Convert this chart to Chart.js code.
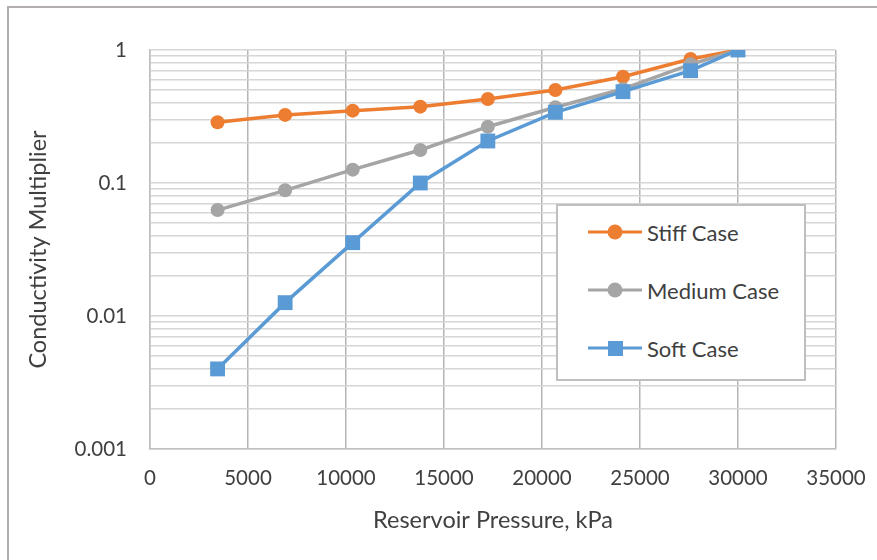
<!DOCTYPE html>
<html>
<head>
<meta charset="utf-8">
<script src="https://cdn.jsdelivr.net/npm/chart.js@4"></script>
<style>
    body { margin: 0; background: #fff; }
    #wrap { position: relative; width: 877px; height: 560px; overflow: hidden; }
    #frame { position: absolute; left: 7px; top: 6px; width: 900px; height: 600px;
             border-left: 2px solid #b3aeb0; border-top: 2px solid #b3aeb0; }
    #legend { position: absolute; left: 556px; top: 204px; width: 246px; height: 173px;
              background: #fff; border: 2px solid #bfbfbf; font-family: Lato, sans-serif;
              font-size: 22px; color: #404040; }
    .row { position: absolute; left: 30px; height: 24px; display: flex; align-items: center; }
    .row svg { margin-right: 5px; }
</style>
</head>
<body>
<div id="wrap">
    <div id="frame"></div>
    <canvas id="chart" width="877" height="560"></canvas>
    <div id="legend"></div>
</div>
<script>
// pressure in kPa
const pressure = [3447, 6895, 10342, 13790, 17237, 20684, 24132, 27579, 30000];
const stiffCase = [0.286, 0.325, 0.350, 0.375, 0.428, 0.500, 0.630, 0.856, 1];
const mediumCase = [0.0626, 0.0881, 0.126, 0.177, 0.265, 0.371, 0.509, 0.78, 1];
const softCase = [0.0040, 0.0126, 0.0356, 0.100, 0.207, 0.340, 0.486, 0.699, 1];

const yLabelValues = [0.001, 0.01, 0.1, 1];
const yTickLabels = ['0.001', '0.01', '0.1', '1'];
const xTickLabels = ['0', '5000', '10000', '15000', '20000', '25000', '30000', '35000'];

// gridlines at 1..9 of each decade
const yGridValues = [];
[0.001, 0.01, 0.1].forEach(d => {
    for (let k = 1; k < 10; k++) yGridValues.push(+(d * k).toPrecision(3));
});
yGridValues.push(1);

const series = [
    { label: 'Stiff Case', data: stiffCase, color: '#ED7D31', style: 'circle', radius: 7, order: 3 },
    { label: 'Medium Case', data: mediumCase, color: '#A5A5A5', style: 'circle', radius: 7, order: 2 },
    { label: 'Soft Case', data: softCase, color: '#5B9BD5', style: 'rect', radius: 10.5, order: 1 }
];

const tickFont = { family: 'Lato', size: 20.5 };
const titleFont = { family: 'Lato', size: 23.5 };
const textColor = '#404040';

new Chart(document.getElementById('chart'), {
    type: 'line',
    data: {
        datasets: series.map(s => ({
            label: s.label,
            data: pressure.map((p, i) => ({ x: p, y: s.data[i] })),
            borderColor: s.color,
            backgroundColor: s.color,
            borderWidth: 3.5,
            pointStyle: s.style,
            pointRadius: s.radius,
            pointBorderWidth: 0,
            pointBackgroundColor: s.color,
            order: s.order,
            tension: 0
        }))
    },
    options: {
        responsive: false,
        devicePixelRatio: 1,
        animation: false,
        layout: { padding: { left: 0, top: 50, right: 41, bottom: 0 } },
        plugins: { legend: { display: false }, tooltip: { enabled: false } },
        scales: {
            x: {
                type: 'linear',
                min: 0,
                max: 35000,
                afterFit: s => { s.height = 111; s.paddingLeft = 0; s.paddingRight = 0; },
                ticks: {
                    stepSize: 5000,
                    padding: 17,
                    color: textColor,
                    font: tickFont,
                    maxRotation: 0,
                    callback: (v, i) => xTickLabels[i]
                },
                grid: { color: '#b8b3b5', lineWidth: 1.5, drawTicks: false },
                border: { color: '#bfbfbf', width: 1.5 },
                title: {
                    display: true,
                    text: 'Reservoir Pressure, kPa',
                    color: textColor,
                    font: titleFont,
                    padding: { top: 0, bottom: 25 }
                }
            },
            y: {
                type: 'logarithmic',
                min: 0.001,
                max: 1,
                afterFit: s => { s.width = 150; s.paddingTop = 0; s.paddingBottom = 0; },
                afterBuildTicks: s => { s.ticks = yGridValues.map(v => ({ value: v })); },
                ticks: {
                    autoSkip: false,
                    padding: 23,
                    color: textColor,
                    font: tickFont,
                    callback: v => {
                        const idx = yLabelValues.findIndex(t => Math.abs(t - v) / t < 1e-6);
                        return idx >= 0 ? yTickLabels[idx] : '';
                    }
                },
                grid: { color: '#d6d6d6', lineWidth: 1.5, drawTicks: false },
                border: { color: '#bfbfbf', width: 1.5 },
                title: {
                    display: true,
                    text: 'Conductivity Multiplier',
                    color: textColor,
                    font: titleFont,
                    padding: { top: 24, bottom: 0 }
                }
            }
        }
    }
});

// legend box
const legend = document.getElementById('legend');
const rowTops = [14, 72, 130];
series.forEach((s, i) => {
    const row = document.createElement('div');
    row.className = 'row';
    row.style.top = rowTops[i] + 'px';
    const marker = s.style === 'rect'
        ? `<rect x="20" y="5" width="15" height="15" fill="${s.color}"/>`
        : `<circle cx="27" cy="12" r="7.5" fill="${s.color}"/>`;
    row.innerHTML = `<svg width="54" height="24"><line x1="0" y1="12" x2="54" y2="12" stroke="${s.color}" stroke-width="3"/>${marker}</svg><span>${s.label}</span>`;
    legend.appendChild(row);
});
</script>
</body>
</html>
